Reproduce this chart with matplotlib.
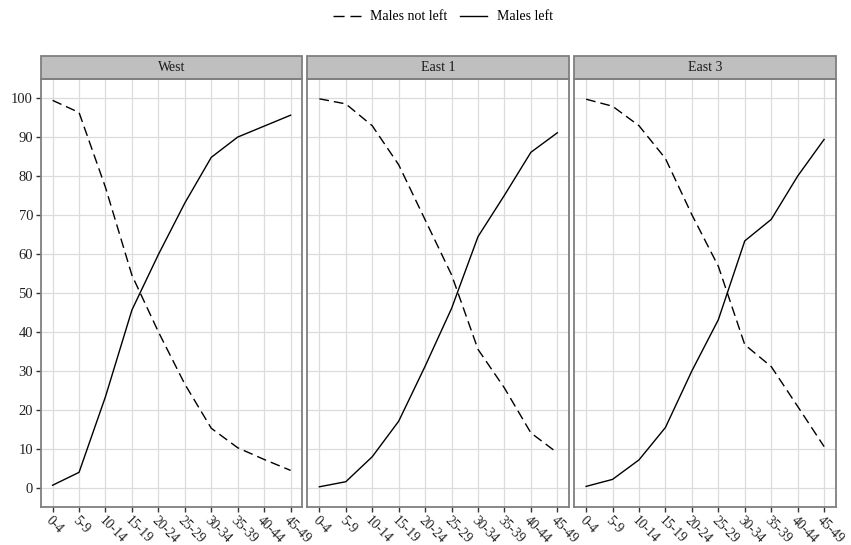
import numpy as np
import matplotlib
matplotlib.use("Agg")
import matplotlib.pyplot as plt
from matplotlib.patches import Rectangle
from matplotlib.lines import Line2D

plt.rcParams["font.family"] = ["Liberation Serif", "DejaVu Serif"]

ages = ["0-4", "5-9", "10-14", "15-19", "20-24", "25-29",
        "30-34", "35-39", "40-44", "45-49"]
regions = ["West", "East 1", "East 3"]

# percentage of males by age group
not_left_west = [99.3, 96.2, 77.0, 54.5, 40.0, 26.6, 15.3, 10.3, 7.3, 4.5]
left_west = [0.7, 4.0, 23.4, 45.6, 59.8, 73.0, 84.7, 89.9, 92.7, 95.5]
not_left_east1 = [99.7, 98.4, 92.8, 82.8, 68.7, 54.6, 35.5, 25.6, 14.1, 9.0]
left_east1 = [0.3, 1.6, 8.0, 17.1, 31.2, 46.0, 64.4, 75.0, 86.0, 91.0]
not_left_east3 = [99.6, 97.8, 92.8, 84.4, 70.0, 56.8, 36.7, 31.1, 20.9, 10.6]
left_east3 = [0.4, 2.2, 7.2, 15.5, 30.0, 43.1, 63.3, 68.8, 79.9, 89.3]

not_left = [not_left_west, not_left_east1, not_left_east3]
left = [left_west, left_east1, left_east3]

W, H = 851, 545
fig, axes = plt.subplots(1, 3, figsize=(W / 100, H / 100), dpi=100, sharey=True)
fig.subplots_adjust(left=40.7 / W, right=836 / W, bottom=1 - 506.7 / H,
                    top=1 - 79.3 / H, wspace=0.019)

x = np.arange(len(ages))
border = "#7f7f7f"
strip_h = 23.6 / 427.4
dash = (0, (7, 3.6))

for ax, name, nl, l in zip(axes, regions, not_left, left):
    ax.plot(x, nl, color="black", lw=1.0, ls=dash)
    ax.plot(x, l, color="black", lw=1.0)
    ax.set_xlim(-0.45, 9.45)
    ax.set_ylim(-4.8, 104.7)
    ax.set_xticks(x)
    ax.set_xticklabels(ages, rotation=-45, ha="left", va="top",
                       rotation_mode="anchor", fontsize=9.8, color="#222222")
    ax.set_yticks(np.arange(0, 101, 10))
    ax.grid(True, color="#dcdcdc", lw=0.9)
    ax.set_axisbelow(True)
    for s in ax.spines.values():
        s.set_color(border)
        s.set_linewidth(1.3)
    ax.tick_params(axis="both", length=3.5, width=1.0, color="#333333",
                   labelsize=10.5, labelcolor="#222222", pad=2)
    ax.tick_params(axis="x", labelsize=9.8, pad=1.5)
    # facet strip
    ax.add_patch(Rectangle((0, 1), 1, strip_h, transform=ax.transAxes,
                           facecolor="#bfbfbf", edgecolor=border, lw=1.3,
                           clip_on=False))
    ax.text(0.5, 1 + strip_h / 2, name, transform=ax.transAxes,
            ha="center", va="center", fontsize=10, color="#1a1a1a")

for ax in axes[1:]:
    ax.tick_params(axis="y", left=False, labelleft=False)

handles = [Line2D([], [], color="black", lw=1.0, ls=(0, (8, 4.2))),
           Line2D([], [], color="black", lw=1.0)]
fig.legend(handles, ["Males not left", "Males left"], loc="center",
           bbox_to_anchor=(443 / W, 1 - 17 / H), ncol=2, frameon=False,
           fontsize=10, handlelength=2.0, handletextpad=0.7,
           columnspacing=0.85)

fig.savefig("out.png", dpi=100)
